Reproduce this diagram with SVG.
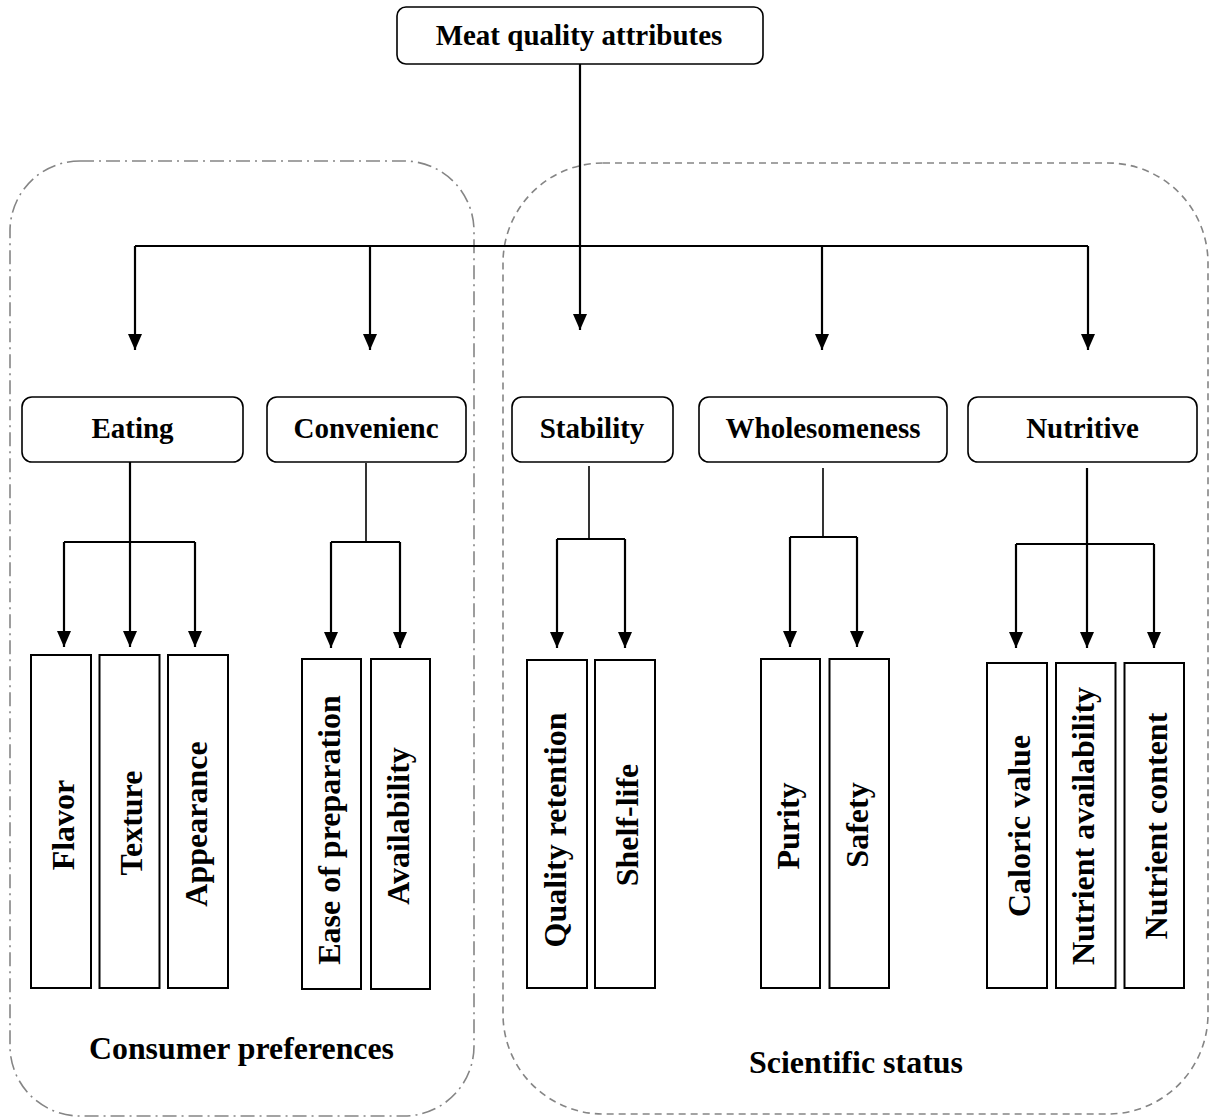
<svg xmlns="http://www.w3.org/2000/svg" width="1211" height="1120" viewBox="0 0 1211 1120">
<style>
.grp{fill:none;stroke:#858585;stroke-width:1.6}
.dd{stroke-dasharray:14,5,2,5}
.da{stroke-dasharray:7,5}
.node{fill:#fff;stroke:#000;stroke-width:1.6}
.leaf{fill:#fff;stroke:#000;stroke-width:2}
.lbl{font-family:"Liberation Serif","Times New Roman",serif;font-weight:bold;font-size:29px;fill:#000;text-anchor:middle}
.vl{font-family:"Liberation Serif","Times New Roman",serif;font-weight:bold;font-size:32px;fill:#000;text-anchor:middle}
.glbl{font-family:"Liberation Serif","Times New Roman",serif;font-weight:bold;font-size:31.5px;fill:#000;text-anchor:middle}
.c{fill:none;stroke:#000;stroke-width:2.2}
.s{fill:none;stroke:#000;stroke-width:1.6}
</style>
<defs>
<marker id="ah" viewBox="0 0 16 14" refX="16" refY="7" markerWidth="16" markerHeight="14" markerUnits="userSpaceOnUse" orient="auto">
<path d="M0,0 L16,7 L0,14 z" fill="#000"/>
</marker>
</defs>
<g id="group-consumer">
<rect class="grp dd" x="10" y="161" width="464" height="955" rx="70" ry="70"/>
<text class="glbl" x="241.5" y="1059" textLength="305" lengthAdjust="spacingAndGlyphs">Consumer preferences</text>
</g>
<g id="group-scientific">
<rect class="grp da" x="503" y="163" width="705" height="951" rx="100" ry="100"/>
<text class="glbl" x="856" y="1073" textLength="214" lengthAdjust="spacingAndGlyphs">Scientific status</text>
</g>
<g id="connectors">
<path class="c" d="M580,64 V330" marker-end="url(#ah)"/>
<path class="c" d="M135,246 H1088"/>
<path class="c" d="M135,246 V350" marker-end="url(#ah)"/>
<path class="c" d="M370,246 V350" marker-end="url(#ah)"/>
<path class="c" d="M822,246 V350" marker-end="url(#ah)"/>
<path class="c" d="M1088,246 V350" marker-end="url(#ah)"/>
<path class="c" d="M130,462 V647" marker-end="url(#ah)"/>
<path class="c" d="M64,542 H195"/>
<path class="c" d="M64,542 V647" marker-end="url(#ah)"/>
<path class="c" d="M195,542 V647" marker-end="url(#ah)"/>
<path class="s" d="M366,463 V542"/>
<path class="c" d="M331,542 H400"/>
<path class="c" d="M331,542 V648" marker-end="url(#ah)"/>
<path class="c" d="M400,542 V648" marker-end="url(#ah)"/>
<path class="s" d="M589,466 V539"/>
<path class="c" d="M557,539 H625"/>
<path class="c" d="M557,539 V648" marker-end="url(#ah)"/>
<path class="c" d="M625,539 V648" marker-end="url(#ah)"/>
<path class="s" d="M823,468 V537"/>
<path class="c" d="M790,537 H857"/>
<path class="c" d="M790,537 V647" marker-end="url(#ah)"/>
<path class="c" d="M857,537 V647" marker-end="url(#ah)"/>
<path class="c" d="M1087,468 V648" marker-end="url(#ah)"/>
<path class="c" d="M1016,544 H1154"/>
<path class="c" d="M1016,544 V648" marker-end="url(#ah)"/>
<path class="c" d="M1154,544 V648" marker-end="url(#ah)"/>
</g>
<g id="meat-quality">
<rect class="node" x="397" y="7" width="366" height="57" rx="9"/>
<text class="lbl" x="579" y="45">Meat quality attributes</text>
</g>
<g id="eating">
<rect class="node" x="22" y="397" width="221" height="65" rx="10"/>
<text class="lbl" x="132.5" y="438">Eating</text>
</g>
<g id="convenience">
<rect class="node" x="267" y="397" width="199" height="65" rx="10"/>
<text class="lbl" x="366" y="438">Convenienc</text>
</g>
<g id="stability">
<rect class="node" x="512" y="397" width="161" height="65" rx="10"/>
<text class="lbl" x="592" y="438">Stability</text>
</g>
<g id="wholesomeness">
<rect class="node" x="699" y="397" width="248" height="65" rx="10"/>
<text class="lbl" x="823" y="438">Wholesomeness</text>
</g>
<g id="nutritive">
<rect class="node" x="968" y="397" width="229" height="65" rx="10"/>
<text class="lbl" x="1082.5" y="438">Nutritive</text>
</g>
<g id="flavor"><rect class="leaf" x="31" y="655" width="60" height="333"/><text class="vl" transform="translate(73.5,825) rotate(-90)">Flavor</text></g>
<g id="texture"><rect class="leaf" x="99.5" y="655" width="60" height="333"/><text class="vl" transform="translate(142,823) rotate(-90)">Texture</text></g>
<g id="appearance"><rect class="leaf" x="168" y="655" width="60" height="333"/><text class="vl" transform="translate(206.5,824) rotate(-90)">Appearance</text></g>
<g id="ease-of-preparation"><rect class="leaf" x="302" y="659" width="59" height="330"/><text class="vl" transform="translate(340,830) rotate(-90)">Ease of preparation</text></g>
<g id="availability"><rect class="leaf" x="371" y="659" width="59" height="330"/><text class="vl" transform="translate(409,826) rotate(-90)">Availability</text></g>
<g id="quality-retention"><rect class="leaf" x="527" y="660" width="60" height="328"/><text class="vl" transform="translate(565.5,830) rotate(-90)">Quality retention</text></g>
<g id="shelf-life"><rect class="leaf" x="595" y="660" width="60" height="328"/><text class="vl" transform="translate(637.5,825) rotate(-90)">Shelf-life</text></g>
<g id="purity"><rect class="leaf" x="761" y="659" width="59" height="329"/><text class="vl" transform="translate(799,826) rotate(-90)">Purity</text></g>
<g id="safety"><rect class="leaf" x="829.5" y="659" width="59.5" height="329"/><text class="vl" transform="translate(867.5,825) rotate(-90)">Safety</text></g>
<g id="caloric-value"><rect class="leaf" x="987" y="663" width="60" height="325"/><text class="vl" transform="translate(1029.5,826) rotate(-90)">Caloric value</text></g>
<g id="nutrient-availability"><rect class="leaf" x="1056" y="663" width="59.5" height="325"/><text class="vl" transform="translate(1094,826) rotate(-90)">Nutrient availability</text></g>
<g id="nutrient-content"><rect class="leaf" x="1124.5" y="663" width="59.5" height="325"/><text class="vl" transform="translate(1166.5,826) rotate(-90)">Nutrient content</text></g>
</svg>
